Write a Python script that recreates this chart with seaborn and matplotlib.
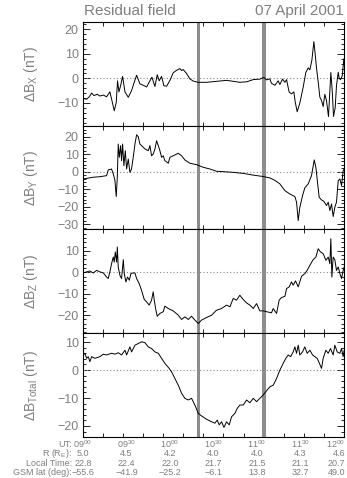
import matplotlib
matplotlib.use("Agg")
import matplotlib.pyplot as plt
import seaborn as sns
import numpy as np
from matplotlib.transforms import blended_transform_factory
from matplotlib.ticker import MultipleLocator, FixedLocator

# ---------------- data (UT decimal hours, nT) ----------------
t_bx = [9.004, 9.042, 9.073, 9.100, 9.126, 9.165, 9.195, 9.234, 9.272, 9.310, 9.333, 9.360, 9.383, 9.398,
        9.414, 9.433, 9.456, 9.483, 9.521, 9.559, 9.586, 9.617, 9.655, 9.693, 9.732, 9.770, 9.793, 9.828,
        9.854, 9.877, 9.904, 9.931, 9.962, 10.000, 10.038, 10.077, 10.115, 10.134, 10.153, 10.191, 10.230,
        10.268, 10.326, 10.421, 10.536, 10.651, 10.728, 10.804, 10.881, 10.958, 11.034, 11.080, 11.111,
        11.149, 11.168, 11.207, 11.245, 11.264, 11.295, 11.322, 11.341, 11.371, 11.398, 11.425, 11.440,
        11.463, 11.494, 11.532, 11.563, 11.590, 11.609, 11.632, 11.655, 11.670, 11.686, 11.705, 11.724,
        11.743, 11.762, 11.781, 11.800, 11.823, 11.839, 11.850, 11.866, 11.881, 11.900, 11.915, 11.935,
        11.946, 11.961, 11.981, 12.000]
bx = [-8.2, -8.5, -7.5, -6.0, -7.0, -6.5, -7.2, -6.8, -7.5, -5.5, -9.0, -13.2, -9.8, -1.0,
      -5.5, -3.0, 0.8, -5.5, -7.7, -5.0, -2.0, 1.3, -2.2, -2.8, -3.5, -1.0, 0.5, -3.3,
      1.5, -1.0, 0.8, -3.0, -3.2, -0.8, 2.3, 3.3, 4.0, 3.2, 3.6, 2.0, -0.2,
      -1.1, -1.6, -1.6, -1.2, -0.8, -1.2, -1.6, -1.4, -0.5, -0.3, 0.4, -0.6,
      -0.2, -2.0, -2.8, -1.0, -2.5, -0.3, -1.6, -0.5, -5.6, -6.3, -5.5, -9.5,
      -13.6, -10.0, -3.6, 2.5, 4.3, 3.5, 7.4, 15.0, 10.0, 4.0, -1.5, -7.7,
      -9.0, -11.5, -6.5, -9.0, -15.6, -5.0, 2.4, -5.0, -15.5, -12.0, -3.0, 2.5,
      0.0, -0.5, 1.0, 8.0]

t_by = [9.004, 9.119, 9.195, 9.272, 9.291, 9.329, 9.349, 9.368, 9.383, 9.395, 9.406, 9.418, 9.433, 9.444,
        9.456, 9.471, 9.487, 9.502, 9.521, 9.540, 9.559, 9.578, 9.598, 9.617, 9.636, 9.655, 9.686, 9.713,
        9.751, 9.770, 9.789, 9.808, 9.828, 9.847, 9.866, 9.885, 9.904, 9.923, 9.942, 9.981, 10.000, 10.038,
        10.096, 10.134, 10.172, 10.230, 10.306, 10.383, 10.460, 10.536, 10.613, 10.728, 10.843, 10.958,
        11.073, 11.149, 11.207, 11.264, 11.322, 11.379, 11.437, 11.456, 11.475, 11.494, 11.525, 11.551,
        11.590, 11.628, 11.659, 11.678, 11.697, 11.716, 11.743, 11.770, 11.800, 11.820, 11.839, 11.858,
        11.877, 11.896, 11.915, 11.935, 11.954, 11.973, 11.992, 12.003]
by = [-4.2, -3.2, -2.9, -2.3, 1.0, 1.5, -1.3, -5.1, -14.3, -3.2, 15.8, 8.2, 14.9, 6.3,
      15.8, 3.4, 12.0, 1.5, 7.2, -0.4, 1.5, 8.2, 15.8, 21.1, 20.0, 15.8, 14.3, 13.0,
      12.0, 14.9, 9.1, 10.1, 13.0, 17.7, 14.9, 12.0, 8.2, 9.1, 6.3, 4.8, 8.2, 9.1,
      10.5, 9.1, 6.7, 4.8, 4.0, 2.5, 1.5, 0.2, 0.0, -0.4, -1.0, -2.0,
      -2.8, -3.6, -5.0, -7.0, -10.9, -12.8, -14.3, -17.5, -28.0, -20.4, -13.7, -9.3,
      -7.0, -2.3, 6.7, 2.5, -6.1, -14.7, -16.2, -17.0, -19.4, -17.5, -22.3, -18.5,
      -25.7, -20.4, -17.5, -5.1, -4.2, -8.0, 0.6, 1.5]

t_bz = [9.004, 9.042, 9.080, 9.119, 9.157, 9.195, 9.234, 9.272, 9.291, 9.310, 9.329, 9.349, 9.360, 9.372,
        9.387, 9.395, 9.406, 9.425, 9.444, 9.464, 9.475, 9.494, 9.513, 9.533, 9.552, 9.578, 9.598, 9.617,
        9.647, 9.674, 9.705, 9.732, 9.762, 9.789, 9.808, 9.820, 9.839, 9.854, 9.885, 9.923, 9.942, 9.981,
        10.038, 10.096, 10.134, 10.172, 10.211, 10.249, 10.287, 10.326, 10.364, 10.421, 10.479, 10.536,
        10.594, 10.651, 10.690, 10.728, 10.766, 10.804, 10.843, 10.881, 10.919, 10.958, 10.996, 11.034,
        11.080, 11.111, 11.168, 11.188, 11.226, 11.256, 11.283, 11.322, 11.341, 11.371, 11.398, 11.417,
        11.444, 11.475, 11.513, 11.551, 11.578, 11.609, 11.647, 11.678, 11.705, 11.731, 11.762, 11.793,
        11.820, 11.839, 11.850, 11.862, 11.877, 11.896, 11.915, 11.935, 11.954, 11.973, 11.992, 12.003]
bz = [-0.3, 0.2, 0.6, -0.3, 0.9, 0.2, -0.3, -2.2, -2.9, 0.2, 4.0, 7.1, 4.8, 9.5,
      4.8, 11.8, 2.5, -1.4, -2.9, 5.9, -0.6, -4.5, -2.2, -3.7, -0.6, -0.3, -0.3, -2.9,
      -5.3, -8.4, -12.7, -13.8, -15.3, -13.0, -9.1, -13.0, -17.7, -20.5, -19.2, -18.4, -15.8, -16.9,
      -18.0, -20.0, -22.0, -20.8, -22.0, -20.5, -22.3, -23.9, -22.3, -21.1, -20.0, -17.7,
      -16.9, -15.3, -16.1, -12.2, -13.0, -10.7, -12.7, -14.3, -15.3, -16.9, -14.6, -18.0,
      -18.0, -18.4, -18.9, -16.9, -19.2, -13.0, -11.8, -11.2, -7.6, -6.8, -4.5, -6.0,
      -4.0, -6.8, -1.9, -0.6, 0.9, 3.3, 5.9, 7.1, 11.0, 9.5, 8.7, 5.6,
      7.1, 4.0, 15.7, -2.2, 7.1, 5.9, 0.9, 2.5, -0.6, -2.9, 0.9, 2.5]

t_bt = [9.004, 9.023, 9.042, 9.061, 9.080, 9.100, 9.138, 9.195, 9.234, 9.272, 9.329, 9.368, 9.406, 9.444,
        9.483, 9.502, 9.540, 9.559, 9.598, 9.636, 9.674, 9.713, 9.751, 9.789, 9.828, 9.866, 9.904, 9.942,
        9.981, 10.019, 10.057, 10.096, 10.134, 10.172, 10.211, 10.249, 10.287, 10.326, 10.364, 10.421,
        10.479, 10.517, 10.544, 10.567, 10.594, 10.621, 10.651, 10.682, 10.709, 10.747, 10.774, 10.804,
        10.843, 10.881, 10.919, 10.958, 10.996, 11.034, 11.073, 11.111, 11.149, 11.188, 11.226, 11.264,
        11.302, 11.333, 11.360, 11.387, 11.417, 11.437, 11.456, 11.475, 11.494, 11.525, 11.551, 11.578,
        11.609, 11.640, 11.666, 11.693, 11.716, 11.743, 11.762, 11.793, 11.820, 11.846, 11.877, 11.896,
        11.923, 11.954, 11.973, 11.992, 12.003]
bt = [5.4, 6.0, 4.2, 4.8, 3.0, 4.8, 4.2, 4.8, 5.7, 5.4, 6.0, 5.7, 6.2, 5.4,
      7.1, 5.4, 8.3, 6.5, 8.9, 9.5, 10.1, 9.8, 8.3, 7.7, 6.5, 6.0, 4.2, 2.4,
      1.0, -0.6, -3.0, -5.4, -8.3, -10.1, -10.7, -10.1, -12.5, -15.5, -16.4, -17.6,
      -18.5, -19.0, -17.9, -19.6, -18.5, -20.5, -18.5, -19.6, -16.7, -15.5, -13.7, -12.5,
      -12.5, -10.7, -11.7, -10.1, -11.3, -10.1, -8.9, -7.4, -6.0, -5.4, -3.0, 0.0,
      2.4, 4.2, 5.4, 4.8, 6.5, 8.3, 6.0, 8.9, 5.4, 6.5, 8.3, 6.0,
      7.1, 5.4, 4.8, 4.2, 2.6, 0.6, 4.2, 7.1, 6.0, 7.7, 5.4, 8.9,
      6.5, 6.0, 7.7, 4.8, 7.1]

event_times = [10.326, 11.080]   # grey vertical markers (UT hours)

ut_labels = ["09$^{00}$", "09$^{30}$", "10$^{00}$", "10$^{30}$", "11$^{00}$", "11$^{30}$", "12$^{00}$"]
ut_hours = [9.0, 9.5, 10.0, 10.5, 11.0, 11.5, 12.0]
r_vals = ["5.0", "4.5", "4.2", "4.0", "4.0", "4.3", "4.6"]
lt_vals = ["22.8", "22.4", "22.0", "21.7", "21.5", "21.1", "20.7"]
lat_vals = ["\u221255.6", "\u221241.9", "\u221225.2", "\u22126.1", "13.8", "32.7", "49.0"]
row_heads = ["UT:", "R (R$_E$):", "Local Time:", "GSM lat (deg):"]

ylabels = [r"$\Delta$B$_X$ (nT)", r"$\Delta$B$_Y$ (nT)", r"$\Delta$B$_Z$ (nT)", r"$\Delta$B$_{Total}$ (nT)"]
ylims = [(-19.3, 23), (-33.1, 26.3), (-28.4, 20), (-23.9, 13.2)]
yticks = [[-10, 0, 10, 20], [-30, -20, -10, 0, 10, 20], [-20, -10, 0, 10], [-20, -10, 0, 10]]

# ---------------- style ----------------
sns.set_style("ticks")
plt.rcParams['font.family'] = ['Liberation Sans', 'DejaVu Sans']
plt.rcParams['mathtext.fontset'] = 'custom'
plt.rcParams['mathtext.rm'] = 'Liberation Sans'
plt.rcParams['mathtext.it'] = 'Liberation Sans'
TXT = '#7f7f7f'

fig = plt.figure(figsize=(3.47, 4.78), dpi=100)
gs = fig.add_gridspec(4, 1, left=0.239, right=0.991, top=0.954, bottom=0.086, hspace=0)
axes = [fig.add_subplot(gs[i]) for i in range(4)]

series = [(t_bx, bx), (t_by, by), (t_bz, bz), (t_bt, bt)]
xticks = [9.0 + k * 3.0 / 13.0 for k in range(14)]

for i, ax in enumerate(axes):
    t, v = series[i]
    ax.axhline(0, color='#8a8a8a', lw=0.8, ls=(0, (1, 2)), zorder=1)
    for et in event_times:
        ax.axvspan(et - 0.02, et + 0.02, color='#8c8c8c', lw=0, zorder=2)
    sns.lineplot(x=t, y=v, ax=ax, color='black', lw=0.7, estimator=None, sort=False, zorder=3)
    ax.set_xlim(9.0, 12.0)
    ax.set_ylim(*ylims[i])
    ax.set_yticks(yticks[i])
    ax.yaxis.set_minor_locator(MultipleLocator(2))
    ax.xaxis.set_major_locator(FixedLocator(xticks))
    ax.tick_params(axis='both', which='both', direction='in', top=True, right=True,
                   labelbottom=False, colors='black', labelcolor=TXT, labelsize=9, width=0.6)
    ax.tick_params(axis='y', which='major', length=5, pad=3)
    ax.tick_params(axis='y', which='minor', length=2.5)
    ax.tick_params(axis='x', which='major', length=3)
    ax.set_ylabel(ylabels[i], color=TXT, fontsize=10)
    ax.yaxis.set_label_coords(-0.165, 0.5)
    ax.set_xlabel("")
    for s in ax.spines.values():
        s.set_linewidth(0.8)
        s.set_color('black')

fig.text(0.242, 0.977, "Residual field", color=TXT, fontsize=11, ha='left', va='center')
fig.text(0.99, 0.977, "07 April 2001", color=TXT, fontsize=11, ha='right', va='center')

trans = blended_transform_factory(axes[3].transData, fig.transFigure)
rows = [ut_labels, r_vals, lt_vals, lat_vals]
row_y = [0.071, 0.051, 0.031, 0.011]
FS = 6.5
for r, (vals, yy) in enumerate(zip(rows, row_y)):
    fig.text(0.207, yy, row_heads[r], color=TXT, fontsize=FS, ha='right', va='center')
    for j, (h, s) in enumerate(zip(ut_hours, vals)):
        if j == len(ut_hours) - 1:
            fig.text(0.995, yy, s, color=TXT, fontsize=FS, ha='right', va='center')
        else:
            fig.text(h, yy, s, color=TXT, fontsize=FS, ha='center', va='center', transform=trans)

fig.savefig("out.png", dpi=100)
